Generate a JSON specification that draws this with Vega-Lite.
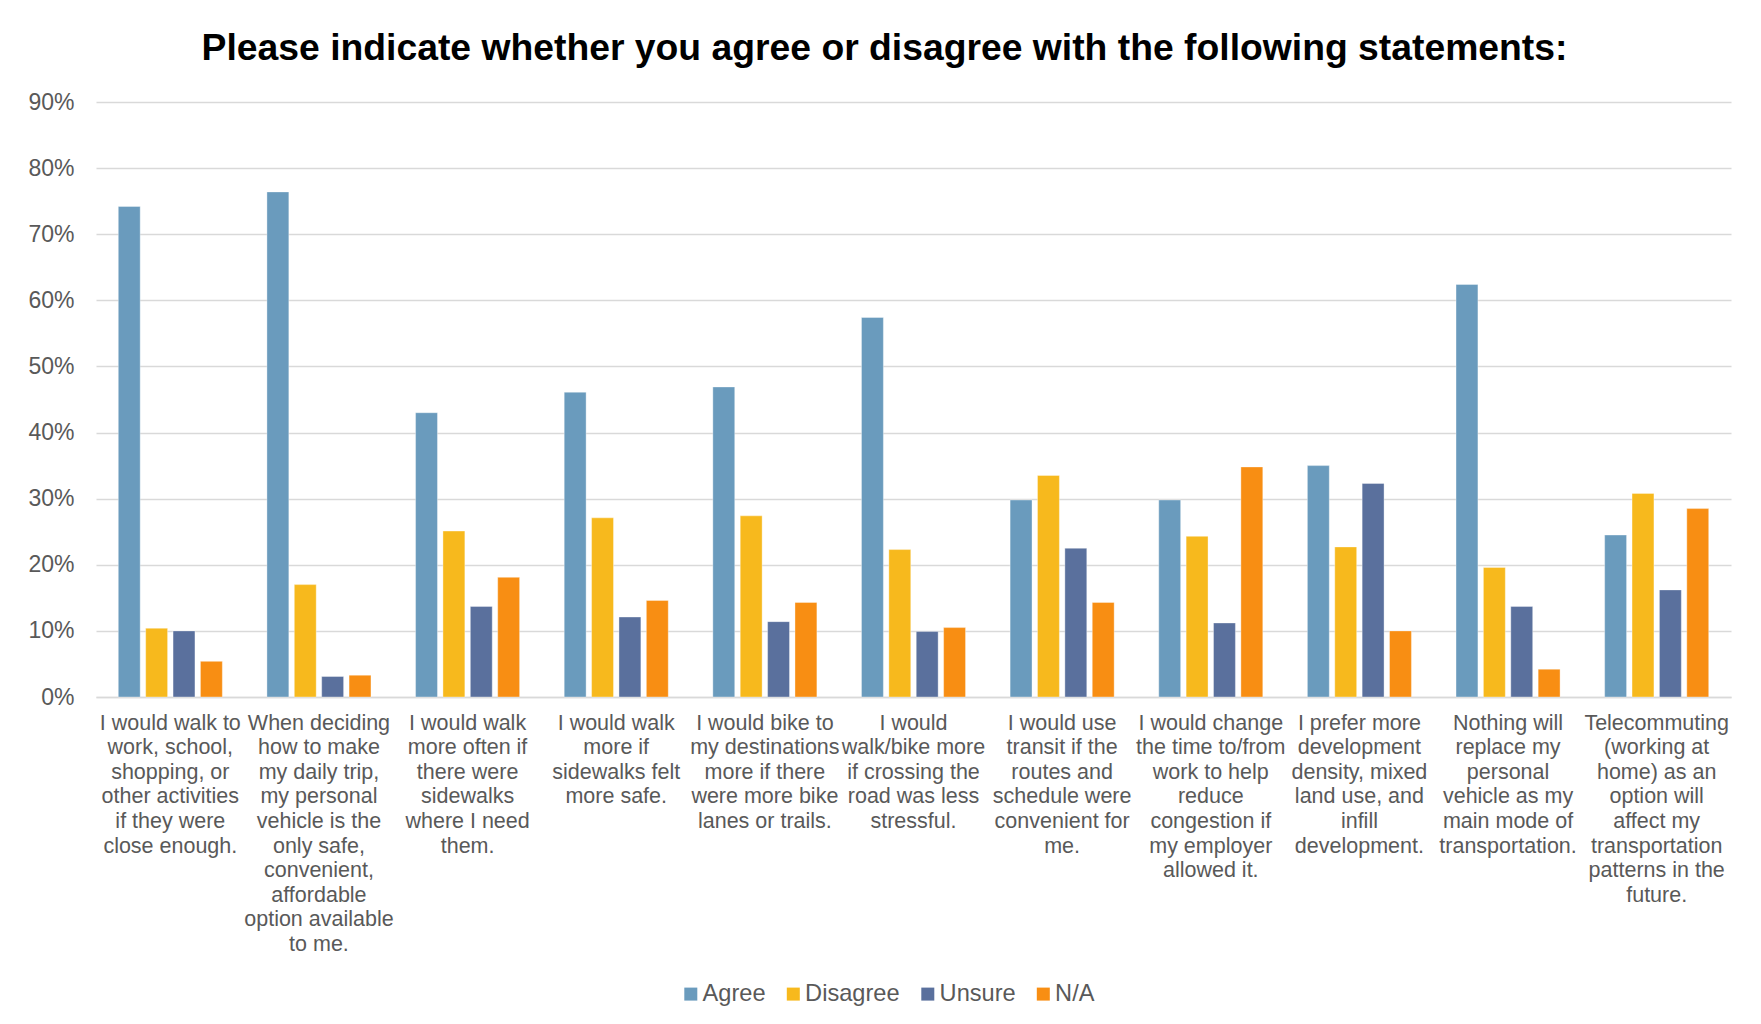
{
  "$schema": "https://vega.github.io/schema/vega-lite/v6.json",
  "width": 1635,
  "height": 595,
  "autosize": {"type": "none"},
  "padding": {"left": 96, "top": 102, "right": 30, "bottom": 327},
  "background": "white",
  "config": {"font": "Liberation Sans", "view": {"stroke": null}},
  "title": {
    "text": "Please indicate whether you agree or disagree with the following statements:",
    "font": "Liberation Sans",
    "fontSize": 37.3,
    "fontWeight": "bold",
    "color": "#000000",
    "anchor": "middle",
    "frame": "group",
    "dx": -29,
    "offset": 23
  },
  "datasets": {
    "survey": [
      {"statement": "I would walk to|work, school,|shopping, or|other activities|if they were|close enough.", "response": "Agree", "value": 0.742},
      {"statement": "I would walk to|work, school,|shopping, or|other activities|if they were|close enough.", "response": "Disagree", "value": 0.104},
      {"statement": "I would walk to|work, school,|shopping, or|other activities|if they were|close enough.", "response": "Unsure", "value": 0.100},
      {"statement": "I would walk to|work, school,|shopping, or|other activities|if they were|close enough.", "response": "N/A", "value": 0.054},
      {"statement": "When deciding|how to make|my daily trip,|my personal|vehicle is the|only safe,|convenient,|affordable|option available|to me.", "response": "Agree", "value": 0.764},
      {"statement": "When deciding|how to make|my daily trip,|my personal|vehicle is the|only safe,|convenient,|affordable|option available|to me.", "response": "Disagree", "value": 0.170},
      {"statement": "When deciding|how to make|my daily trip,|my personal|vehicle is the|only safe,|convenient,|affordable|option available|to me.", "response": "Unsure", "value": 0.031},
      {"statement": "When deciding|how to make|my daily trip,|my personal|vehicle is the|only safe,|convenient,|affordable|option available|to me.", "response": "N/A", "value": 0.033},
      {"statement": "I would walk|more often if|there were|sidewalks|where I need|them.", "response": "Agree", "value": 0.430},
      {"statement": "I would walk|more often if|there were|sidewalks|where I need|them.", "response": "Disagree", "value": 0.251},
      {"statement": "I would walk|more often if|there were|sidewalks|where I need|them.", "response": "Unsure", "value": 0.137},
      {"statement": "I would walk|more often if|there were|sidewalks|where I need|them.", "response": "N/A", "value": 0.181},
      {"statement": "I would walk|more if|sidewalks felt|more safe.", "response": "Agree", "value": 0.461},
      {"statement": "I would walk|more if|sidewalks felt|more safe.", "response": "Disagree", "value": 0.271},
      {"statement": "I would walk|more if|sidewalks felt|more safe.", "response": "Unsure", "value": 0.121},
      {"statement": "I would walk|more if|sidewalks felt|more safe.", "response": "N/A", "value": 0.146},
      {"statement": "I would bike to|my destinations|more if there|were more bike|lanes or trails.", "response": "Agree", "value": 0.469},
      {"statement": "I would bike to|my destinations|more if there|were more bike|lanes or trails.", "response": "Disagree", "value": 0.274},
      {"statement": "I would bike to|my destinations|more if there|were more bike|lanes or trails.", "response": "Unsure", "value": 0.114},
      {"statement": "I would bike to|my destinations|more if there|were more bike|lanes or trails.", "response": "N/A", "value": 0.143},
      {"statement": "I would|walk/bike more|if crossing the|road was less|stressful.", "response": "Agree", "value": 0.574},
      {"statement": "I would|walk/bike more|if crossing the|road was less|stressful.", "response": "Disagree", "value": 0.223},
      {"statement": "I would|walk/bike more|if crossing the|road was less|stressful.", "response": "Unsure", "value": 0.099},
      {"statement": "I would|walk/bike more|if crossing the|road was less|stressful.", "response": "N/A", "value": 0.105},
      {"statement": "I would use|transit if the|routes and|schedule were|convenient for|me.", "response": "Agree", "value": 0.298},
      {"statement": "I would use|transit if the|routes and|schedule were|convenient for|me.", "response": "Disagree", "value": 0.335},
      {"statement": "I would use|transit if the|routes and|schedule were|convenient for|me.", "response": "Unsure", "value": 0.225},
      {"statement": "I would use|transit if the|routes and|schedule were|convenient for|me.", "response": "N/A", "value": 0.143},
      {"statement": "I would change|the time to/from|work to help|reduce|congestion if|my employer|allowed it.", "response": "Agree", "value": 0.298},
      {"statement": "I would change|the time to/from|work to help|reduce|congestion if|my employer|allowed it.", "response": "Disagree", "value": 0.243},
      {"statement": "I would change|the time to/from|work to help|reduce|congestion if|my employer|allowed it.", "response": "Unsure", "value": 0.112},
      {"statement": "I would change|the time to/from|work to help|reduce|congestion if|my employer|allowed it.", "response": "N/A", "value": 0.348},
      {"statement": "I prefer more|development|density, mixed|land use, and|infill|development.", "response": "Agree", "value": 0.350},
      {"statement": "I prefer more|development|density, mixed|land use, and|infill|development.", "response": "Disagree", "value": 0.227},
      {"statement": "I prefer more|development|density, mixed|land use, and|infill|development.", "response": "Unsure", "value": 0.323},
      {"statement": "I prefer more|development|density, mixed|land use, and|infill|development.", "response": "N/A", "value": 0.100},
      {"statement": "Nothing will|replace my|personal|vehicle as my|main mode of|transportation.", "response": "Agree", "value": 0.624},
      {"statement": "Nothing will|replace my|personal|vehicle as my|main mode of|transportation.", "response": "Disagree", "value": 0.196},
      {"statement": "Nothing will|replace my|personal|vehicle as my|main mode of|transportation.", "response": "Unsure", "value": 0.137},
      {"statement": "Nothing will|replace my|personal|vehicle as my|main mode of|transportation.", "response": "N/A", "value": 0.042},
      {"statement": "Telecommuting|(working at|home) as an|option will|affect my|transportation|patterns in the|future.", "response": "Agree", "value": 0.245},
      {"statement": "Telecommuting|(working at|home) as an|option will|affect my|transportation|patterns in the|future.", "response": "Disagree", "value": 0.308},
      {"statement": "Telecommuting|(working at|home) as an|option will|affect my|transportation|patterns in the|future.", "response": "Unsure", "value": 0.162},
      {"statement": "Telecommuting|(working at|home) as an|option will|affect my|transportation|patterns in the|future.", "response": "N/A", "value": 0.285}
    ]
  },
  "data": {"name": "survey"},
  "mark": {"type": "bar", "stroke": "#ffffff", "strokeWidth": 0.6, "strokeOpacity": 0.6},
  "encoding": {
    "x": {
      "field": "statement",
      "type": "nominal",
      "sort": null,
      "scale": {"paddingInner": 0.3, "paddingOuter": 0.15},
      "axis": {
        "title": null,
        "labelExpr": "split(datum.label, '|')",
        "labelAngle": 0,
        "labelFont": "Liberation Sans",
        "labelFontSize": 21.5,
        "labelLineHeight": 24.6,
        "labelColor": "#595959",
        "labelLimit": 300,
        "labelOverlap": false,
        "labelBound": false,
        "labelFlush": false,
        "labelPadding": 15,
        "ticks": false,
        "domainColor": "#D9D9D9",
        "domainWidth": 1.5,
        "grid": false
      }
    },
    "xOffset": {
      "field": "response",
      "type": "nominal",
      "sort": ["Agree", "Disagree", "Unsure", "N/A"],
      "scale": {"paddingInner": 0.2, "paddingOuter": 0}
    },
    "y": {
      "field": "value",
      "type": "quantitative",
      "scale": {"domain": [0, 0.9], "nice": false},
      "axis": {
        "title": null,
        "format": ".0%",
        "values": [0, 0.1, 0.2, 0.3, 0.4, 0.5, 0.6, 0.7, 0.8, 0.9],
        "domain": false,
        "ticks": false,
        "grid": true,
        "gridColor": "#D9D9D9",
        "gridWidth": 1.5,
        "labelFont": "Liberation Sans",
        "labelFontSize": 23,
        "labelColor": "#595959",
        "labelPadding": 22
      }
    },
    "color": {
      "field": "response",
      "type": "nominal",
      "sort": ["Agree", "Disagree", "Unsure", "N/A"],
      "scale": {
        "domain": ["Agree", "Disagree", "Unsure", "N/A"],
        "range": ["#6A9BBD", "#F7B91D", "#5A709D", "#F88E13"]
      },
      "legend": {
        "title": null,
        "orient": "none",
        "direction": "horizontal",
        "legendX": 583,
        "legendY": 880,
        "symbolType": "square",
        "symbolSize": 169,
        "symbolStrokeWidth": 0,
        "labelFont": "Liberation Sans",
        "labelFontSize": 23.6,
        "labelColor": "#595959",
        "labelOffset": 0,
        "columnPadding": 15.5
      }
    }
  }
}
